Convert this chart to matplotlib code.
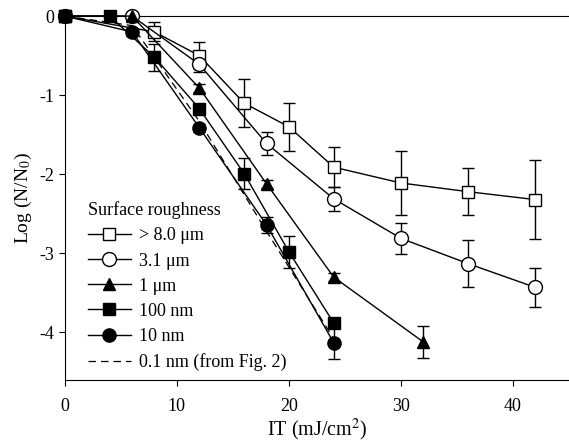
import matplotlib
matplotlib.use("Agg")
import matplotlib.pyplot as plt
from matplotlib.lines import Line2D

plt.rcParams['font.family'] = ['Liberation Serif', 'DejaVu Serif']
plt.rcParams['mathtext.fontset'] = 'stix'

# data
x_sq_open = [0, 8, 12, 16, 20, 24, 30, 36, 42]
y_sq_open = [0, -0.2, -0.5, -1.1, -1.4, -1.91, -2.11, -2.22, -2.32]
e_sq_open = [0, 0.12, 0.17, 0.3, 0.3, 0.25, 0.4, 0.3, 0.5]

x_ci_open = [0, 6, 12, 18, 24, 30, 36, 42]
y_ci_open = [0, 0, -0.61, -1.61, -2.31, -2.81, -3.13, -3.43]
e_ci_open = [0, 0, 0.1, 0.15, 0.15, 0.2, 0.3, 0.25]

x_tri = [0, 6, 12, 18, 24, 32]
y_tri = [0, 0, -0.91, -2.12, -3.3, -4.12]
e_tri = [0, 0, 0.05, 0.05, 0.05, 0.2]

x_sq = [0, 4, 8, 12, 16, 20, 24]
y_sq = [0, 0, -0.52, -1.17, -1.99, -2.98, -3.88]
e_sq = [0, 0, 0.17, 0.05, 0.2, 0.2, 0.05]

x_ci = [0, 6, 12, 18, 24]
y_ci = [0, -0.2, -1.41, -2.64, -4.13]
e_ci = [0, 0.05, 0.05, 0.1, 0.2]

x_dash = [0, 6, 12, 18, 24]
y_dash = [0, -0.12, -1.33, -2.72, -4.08]

labels = ['> 8.0 \u03bcm', '3.1 \u03bcm', '1 \u03bcm', '100 nm', '10 nm', '0.1 nm (from Fig. 2)']

fig = plt.figure(figsize=(5.69, 4.47), dpi=100)
ax = fig.add_axes([0.114, 0.150, 0.886, 0.814])

ax.plot(x_dash, y_dash, color='black', lw=0.9, ls=(0, (6, 4)), zorder=2)

series = [
    (x_sq_open, y_sq_open, e_sq_open, 's', 'white', 8.5),
    (x_ci_open, y_ci_open, e_ci_open, 'o', 'white', 10),
    (x_tri, y_tri, e_tri, '^', 'black', 9),
    (x_sq, y_sq, e_sq, 's', 'black', 8.5),
    (x_ci, y_ci, e_ci, 'o', 'black', 9.5),
]
handles = []
for xs, ys, es, m, fc, ms in series:
    cont = ax.errorbar(xs, ys, yerr=es, fmt='-', color='black', lw=1.0,
                       marker=m, mfc=fc, mec='black', mew=1.0, ms=ms,
                       capsize=4.5, elinewidth=1.0, capthick=1.0, zorder=3)
    for art in cont.get_children():
        art.set_clip_on(False)
    handles.append(Line2D([], [], color='black', lw=1.0, marker=m, mfc=fc,
                          mec='black', mew=1.0, ms=ms))
handles.append(Line2D([], [], color='black', lw=0.9, ls=(0, (6, 4))))

ax.set_xlim(0, 45)
ax.set_ylim(-4.6, 0)
ax.set_xticks([0, 10, 20, 30, 40])
ax.set_yticks([0, -1, -2, -3, -4])
ax.set_yticklabels(['0', '-1', '-2', '-3', '-4'])
ax.spines['right'].set_visible(False)
ax.tick_params(direction='out', length=4, labelsize=13)
ax.tick_params(axis='x', pad=9)
ax.set_xlabel('IT (mJ/cm$^2$)', fontsize=14.5, labelpad=1)
ax.set_ylabel('Log (N/N$_0$)', fontsize=14, labelpad=4)

leg = ax.legend(handles, labels, loc='lower left', bbox_to_anchor=(0.02, -0.01),
                frameon=False, fontsize=13, title='Surface roughness',
                title_fontsize=13, alignment='left', handlelength=2.4,
                labelspacing=0.45, handletextpad=0.45, borderaxespad=0.3)

fig.savefig('out.png', dpi=100)
